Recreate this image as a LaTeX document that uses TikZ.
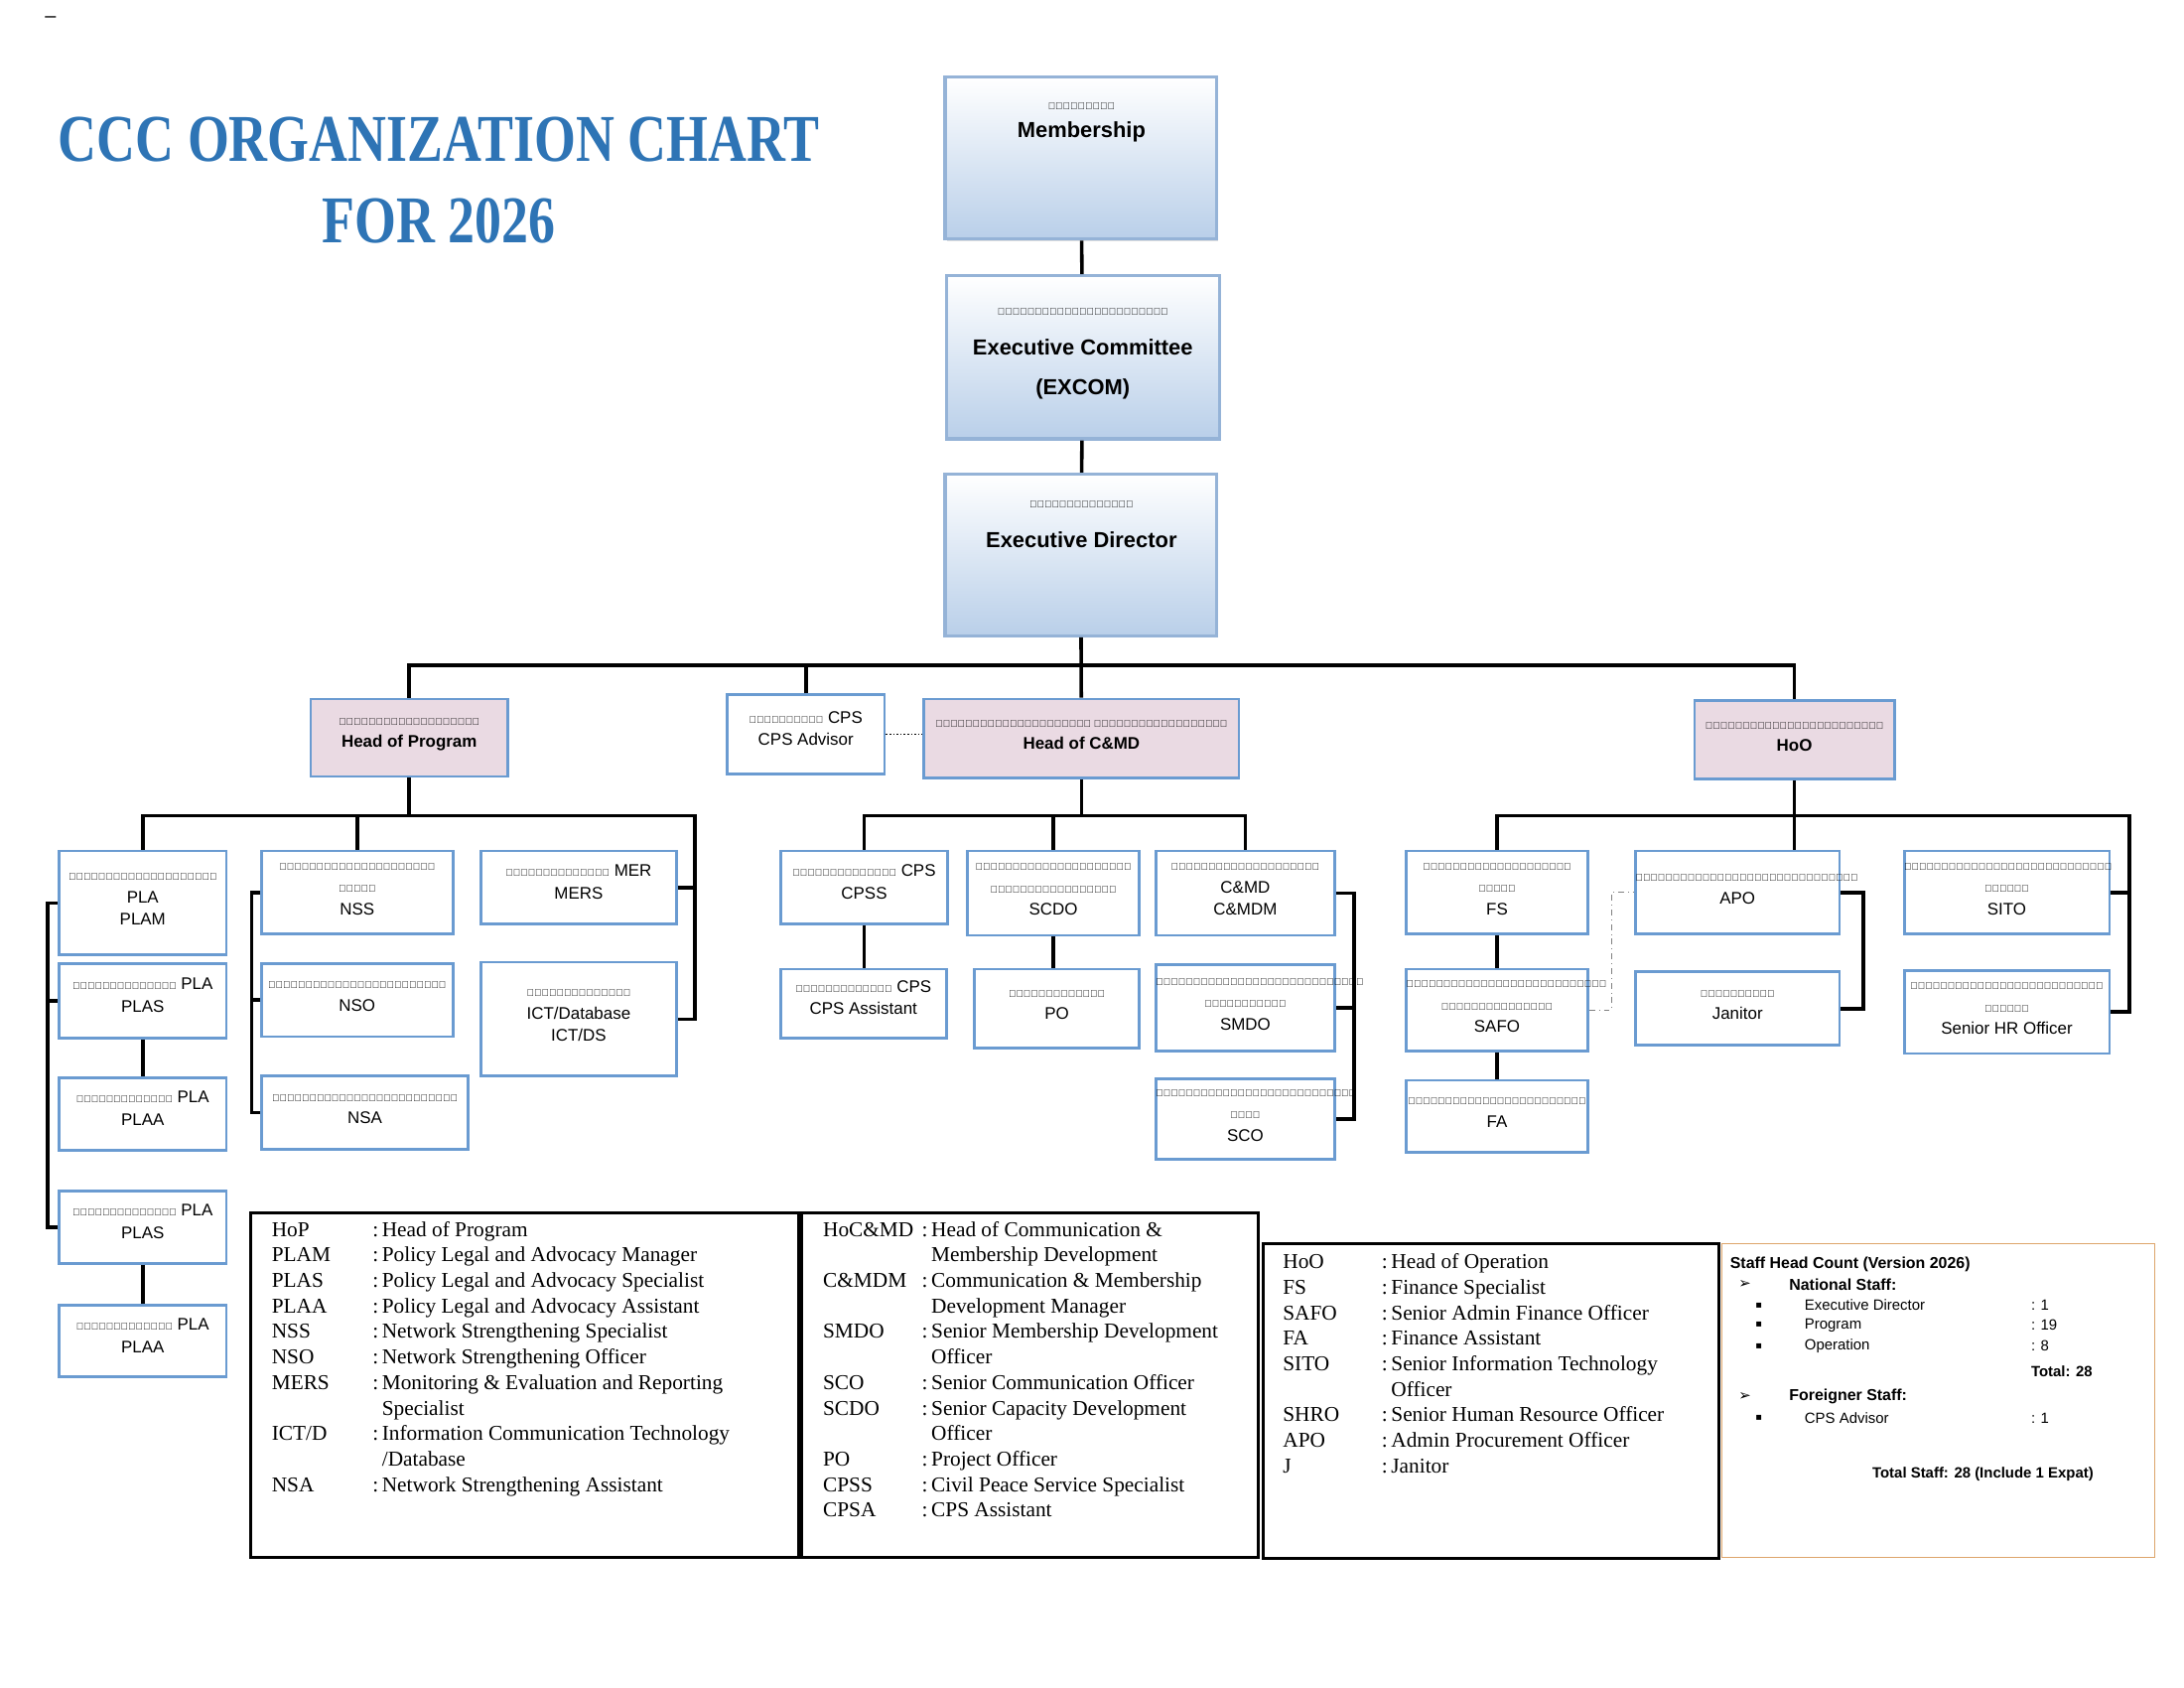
\documentclass[tikz,border=0pt]{standalone}
\usepackage{fontspec}
\usepackage{array}
\setmainfont{Liberation Sans}
\newfontfamily\legendfont{Liberation Serif}
\newfontfamily\symfont{DejaVu Sans}
\newcommand{\km}[1]{{\fontsize{5}{6}\selectfont #1}}
\usepackage{tikz}
\usetikzlibrary{fit}
\usetikzlibrary{positioning}
\usetikzlibrary{calc}
\usetikzlibrary{shadows}
\usetikzlibrary{backgrounds}

\definecolor{boxblue}{HTML}{6A9BD1}
\definecolor{topblue}{HTML}{95B3D7}
\definecolor{fadeblue}{HTML}{B9CFE9}
\definecolor{headpink}{HTML}{EADAE3}
\definecolor{titleblue}{HTML}{2E74B5}
\definecolor{countorange}{HTML}{DDA56B}

\begin{document}
\begin{tikzpicture}[
            x = 0.025cm, y = -0.025cm, % one unit per pixel, y down
            inner sep = 0pt,
            link/.style = {line width = 1.8pt},
            top/.style = {draw = topblue, line width = 1.6pt,
                top color = white, bottom color = fadeblue,
                drop shadow = {shadow xshift = 1pt, shadow yshift = -1pt, fill = black!25},
                align = center, font = \fontsize{11}{20}\selectfont\bfseries},
            head/.style = {draw = boxblue, line width = 1.4pt, fill = headpink,
                align = center, font = \fontsize{8.5}{11}\selectfont\bfseries},
            box/.style = {draw = boxblue, line width = 1.4pt, fill = white,
                align = center, font = \fontsize{8.5}{11.3}\selectfont},
            legend/.style = {draw, line width = 1.4pt},
            count/.style = {anchor = west, font = \fontsize{7.5}{9}\selectfont}
        ]

        \useasboundingbox (0,0) rectangle (1553,1200);
        \node[font = \fontsize{10}{10}\selectfont] (dash) at (36,14) {--};

        % title
        \node[text = titleblue, align = center, font = \legendfont\bfseries\fontsize{26}{41}\selectfont]
            (title) at (312,128) {\scalebox{1.04}[1.3]{CCC ORGANIZATION CHART}\\ \scalebox{1.04}[1.3]{FOR 2026}};

        % top of the chart
        \node[top, fit = {(672,55) (865,170)}] (mem) {};
        \node[font = \fontsize{11}{14}\selectfont\bfseries, align = center] (memtext) at (769,87) {\km{សមាជិកភាព}\\Membership};
        \node[top, fit = {(673,196) (867,312)}] (excom) {\km{គណៈកម្មាធិការប្រតិបត្តិ}\\Executive Committee\\(EXCOM)};
        \node[top, fit = {(672,337) (865,452)}] (ed) {};
        \node[font = \fontsize{11}{20}\selectfont\bfseries, align = center] (edtext) at (769,373) {\km{នាយកប្រតិបត្តិ}\\Executive Director};

        \path[link] (mem) edge (excom) (excom) edge (ed);

        % heads
        \node[head, fit = {(221,497) (361,552)}] (hop) {\km{ប្រធានផ្នែកកម្មវិធី}\\Head of Program};
        \node[box, fit = {(517,494) (629,550)}] (cps) {\km{ទីប្រឹក្សា} CPS\\CPS Advisor};
        \node[head, fit = {(657,497) (881,553)}] (hcmd) {\km{ប្រធានផ្នែកទំនាក់ទំនង និងអភិវឌ្ឍន៍សមាជិក}\\Head of C\&MD};
        \node[head, fit = {(1205,498) (1347,554)}] (hoo) {\km{ប្រធានផ្នែកប្រតិបត្តិការ}\\HoO};

        \coordinate (bus) at (769,473);
        \draw[link] (ed) -- (hcmd);
        \draw[link] (hop.north) |- (bus) -| (hoo.north);
        \draw[link] (cps.north) -- (cps.north |- bus);
        \draw[densely dotted, thick] (cps.east) -- (cps.east -| hcmd.west);

        % program
        \node[box, fit = {(42,605) (161,679)}] (plam) {\km{ប្រធានគ្រប់គ្រងផ្នែក}\\PLA\\PLAM};
        \node[box, fit = {(42,685) (161,738)}] (plas) {\km{អ្នកឯកទេសផ្នែក} PLA\\PLAS};
        \node[box, fit = {(42,766) (161,818)}] (plaa) {\km{ជំនួយការផ្នែក} PLA\\PLAA};
        \node[box, fit = {(42,847) (161,898)}] (plas2) {\km{អ្នកឯកទេសផ្នែក} PLA\\PLAS};
        \node[box, fit = {(42,928) (161,979)}] (plaa2) {\km{ជំនួយការផ្នែក} PLA\\PLAA};
        \node[box, fit = {(186,605) (322,664)}] (nss) {\km{អ្នកឯកទេសផ្នែកពង្រឹងប}\\\km{ណ្ដាញ}\\NSS};
        \node[box, fit = {(186,685) (322,737)}] (nso) {\km{មន្ត្រីផ្នែកពង្រឹងបណ្ដាញ}\\NSO};
        \node[box, fit = {(186,765) (333,817)}] (nsa) {\km{ជំនួយការផ្នែកពង្រឹងបណ្ដាញ}\\NSA};
        \node[box, fit = {(342,605) (481,657)}] (mers) {\km{អ្នកឯកទេសផ្នែក} MER\\MERS};
        \node[box, fit = {(342,684) (481,765)}] (ict) {\km{អ្នកឯកទេសផ្នែក}\\ICT/Database\\ICT/DS};

        \coordinate (pbus) at (291,580);
        \draw[link] (hop) -- (pbus);
        \draw[link] (plam.north) |- (pbus) -| ($(ict.east)+(12,0)$) -- (ict.east);
        \draw[link] (mers.east) -- ++(12,0);
        \draw[link] (nss.north) -- (nss.north |- pbus);
        \draw[link] (plam.west) -- ++(-7,0) |- (plas2.west);
        \draw[link] (plas.west) -- ++(-7,0);
        \draw[link] (nss.west) -- ++(-6,0) |- (nsa.west);
        \draw[link] (nso.west) -- ++(-6,0);
        \draw[link] (plas) -- (plaa);
        \draw[link] (plas2) -- (plaa2);

        % communication and membership development
        \node[box, fit = {(555,605) (674,657)}] (cpss) {\km{អ្នកឯកទេសផ្នែក} CPS\\CPSS};
        \node[box, fit = {(555,689) (673,738)}] (cpsa) {\km{ជំនួយការផ្នែក} CPS\\CPS Assistant};
        \node[box, fit = {(688,605) (810,665)}] (scdo) {\km{មន្ត្រីជាន់ខ្ពស់ផ្នែក}\\\km{អភិវឌ្ឍន៍សមត្ថភាព}\\SCDO};
        \node[box, fit = {(693,689) (810,745)}] (po) {\km{មន្ត្រីគម្រោង}\\PO};
        \node[box, fit = {(822,605) (949,665)}] (cmdm) {\km{ប្រធានគ្រប់គ្រងផ្នែក}\\C\&MD\\C\&MDM};
        \node[box, fit = {(822,686) (949,747)}] (smdo) {\km{មន្ត្រីជាន់ខ្ពស់ផ្នែកអភិវឌ្ឍ}\\\km{ន៍សមាជិកភាព}\\SMDO};
        \node[box, fit = {(822,767) (949,824)}] (sco) {\km{មន្ត្រីជាន់ខ្ពស់ផ្នែកទំនាក់}\\\km{ទំនង}\\SCO};

        \coordinate (cbus) at (769,580);
        \draw[link] (hcmd) -- (cbus);
        \draw[link] (cpss.north) |- (cbus) -| (cmdm.north);
        \draw[link] (scdo.north) -- (scdo.north |- cbus);
        \draw[link] (cpss.south) -- (cpss.south |- cpsa.north);
        \draw[link] (scdo.south) -- (scdo.south |- po.north);
        \draw[link] (cmdm.east) -- ++(13,0) |- (sco.east);
        \draw[link] (smdo.east) -- ++(13,0);

        % operation
        \node[box, fit = {(1000,605) (1129,664)}] (fs) {\km{អ្នកឯកទេសផ្នែកហិរញ្ញ}\\\km{វត្ថុ}\\FS};
        \node[box, fit = {(1000,689) (1129,747)}] (safo) {\km{មន្ត្រីជាន់ខ្ពស់ផ្នែករដ្ឋបា}\\\km{លនិងហិរញ្ញវត្ថុ}\\SAFO};
        \node[box, fit = {(1000,768) (1129,819)}] (fa) {\km{ជំនួយការផ្នែកហិរញ្ញវត្ថុ}\\FA};
        \node[box, fit = {(1163,605) (1308,664)}] (apo) {\km{មន្ត្រីផ្នែករដ្ឋបាលនិងលទ្ធកម្ម}\\APO};
        \node[box, fit = {(1163,691) (1308,743)}] (jan) {\km{អ្នកអនាម័យ}\\Janitor};
        \node[box, fit = {(1354,605) (1500,664)}] (sito) {\km{មន្ត្រីជាន់ខ្ពស់ផ្នែកព័ត៌មាន}\\\km{វិទ្យា}\\SITO};
        \node[box, fit = {(1354,690) (1500,749)}] (shro) {\km{មន្ត្រីជាន់ខ្ពស់ផ្នែកធនធាន}\\\km{មនុស្ស}\\Senior HR Officer};

        \coordinate (obus) at (1275,580);
        \draw[link] (hoo.south) -- (hoo.south |- apo.north);
        \draw[link] (fs.north) |- (obus) -| ($(shro.east)+(13,0)$) -- (shro.east);
        \draw[link] (sito.east) -- ++(13,0);
        \draw[link] (fs) -- (safo);
        \draw[link] (safo) -- (fa);
        \draw[link] (apo.east) -- ++(16,0) |- (jan.east);
        \draw[gray, thin, dash dot] (safo.east) -- ++(16,0) |- (apo.west);

        % legends
        \node[legend, fit = {(178,862) (568,1107)}] (leg1) {};
        \node[legend, fit = {(570,862) (895,1107)}] (leg2) {};
        \node[legend, fit = {(898,884) (1222,1108)}] (leg3) {};
        \node[draw = countorange, thin, fit = {(1224,884) (1532,1107)}] (leg4) {};

        \node[anchor = north west, font = \legendfont\fontsize{10.7}{12.9}\selectfont] (legtext1) at (193,866) {%
            \begin{tabular}{@{}p{51pt}@{}l@{\,}>{\raggedright\arraybackslash}p{190pt}@{}}
            HoP & : & Head of Program\\
            PLAM & : & Policy Legal and Advocacy Manager\\
            PLAS & : & Policy Legal and Advocacy Specialist\\
            PLAA & : & Policy Legal and Advocacy Assistant\\
            NSS & : & Network Strengthening Specialist\\
            NSO & : & Network Strengthening Officer\\
            MERS & : & Monitoring \& Evaluation and Reporting Specialist\\
            ICT/D & : & Information Communication Technology /Database\\
            NSA & : & Network Strengthening Assistant
            \end{tabular}};
        \node[anchor = north west, font = \legendfont\fontsize{10.7}{12.9}\selectfont] (legtext2) at (585,866) {%
            \begin{tabular}{@{}p{50pt}@{}l@{\,}>{\raggedright\arraybackslash}p{158pt}@{}}
            HoC\&MD & : & Head of Communication \& Membership Development\\
            C\&MDM & : & Communication \& Membership Development Manager\\
            SMDO & : & Senior Membership Development Officer\\
            SCO & : & Senior Communication Officer\\
            SCDO & : & Senior Capacity Development Officer\\
            PO & : & Project Officer\\
            CPSS & : & Civil Peace Service Specialist\\
            CPSA & : & CPS Assistant
            \end{tabular}};
        \node[anchor = north west, font = \legendfont\fontsize{10.7}{12.9}\selectfont] (legtext3) at (912,889) {%
            \begin{tabular}{@{}p{50pt}@{}l@{\,}>{\raggedright\arraybackslash}p{150pt}@{}}
            HoO & : & Head of Operation\\
            FS & : & Finance Specialist\\
            SAFO & : & Senior Admin Finance Officer\\
            FA & : & Finance Assistant\\
            SITO & : & Senior Information Technology Officer\\
            SHRO & : & Senior Human Resource Officer\\
            APO & : & Admin Procurement Officer\\
            J & : & Janitor
            \end{tabular}};

        % staff head count
        \node[count, font = \fontsize{8}{9}\selectfont\bfseries] (cnthead) at (1230,899) {Staff Head Count (Version 2026)};
        \node[count] (natarrow) at (1236,913) {\symfont ➢};
        \node[count, font = \fontsize{8}{9}\selectfont\bfseries] (nat) at (1272,913) {National Staff:};
        \node[count] (forarrow) at (1236,993) {\symfont ➢};
        \node[count, font = \fontsize{8}{9}\selectfont\bfseries] (for) at (1272,993) {Foreigner Staff:};
        \foreach \y/\lab/\num in {928/Executive Director/1, 942/Program/19, 957/Operation/8, 1008/CPS Advisor/1} {
            \node[count, font = \fontsize{5}{6}\selectfont\symfont] (bul\y) at (1248,\y) {▪};
            \node[count] (lab\y) at (1283,\y) {\lab};
            \node[count] (num\y) at (1444,\y) {: \num};
        }
        \node[count, font = \fontsize{7.5}{9}\selectfont\bfseries] (subtot) at (1444,975) {Total: 28};
        \node[font = \fontsize{7.5}{9}\selectfont\bfseries] (total) at (1410,1048) {Total Staff: 28 (Include 1 Expat)};

  \end{tikzpicture}
\end{document}
